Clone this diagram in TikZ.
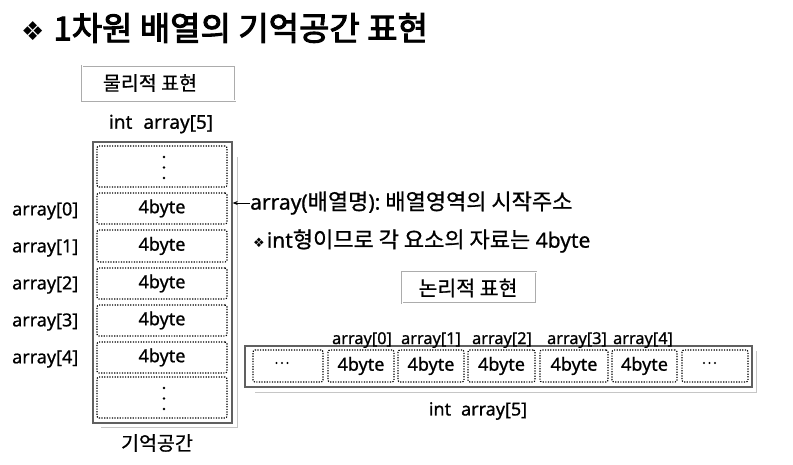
\documentclass[tikz,border=0pt]{standalone}
\usepackage{fontspec}
\setmainfont[FakeBold=0.8]{Noto Sans}
\newfontfamily\krfont[FakeBold=0.8]{Noto Sans CJK KR}
\newfontfamily\krtitle[FakeBold=3]{Noto Sans CJK KR}
\newfontfamily\symfont{DejaVu Sans}
\newcommand{\K}[1]{{\krfont\fontsize{19.5}{22}\selectfont #1}}
\newcommand{\KL}[1]{{\krfont\fontsize{22}{24}\selectfont #1}}
\usetikzlibrary{arrows.meta}
\begin{document}
\begin{tikzpicture}[x=1pt,y=-1pt,
  txt/.style={inner sep=0pt, font=\fontsize{18}{20}\selectfont},
  big/.style={inner sep=0pt, font=\fontsize{21}{23}\selectfont},
  small/.style={inner sep=0pt, font=\fontsize{16.3}{18}\selectfont},
  cell/.style={draw=black, line width=1.2pt, dash pattern=on 1.2pt off 1.4pt,
    rounded corners=2pt, inner sep=0pt, font=\fontsize{18}{20}\selectfont},
  frame/.style={draw=gray!75!black, line width=1.4pt, inner sep=0pt},
  shadow/.style={draw=gray!45, line width=0.8pt},
  tagbox/.style={draw=gray!65, line width=0.5pt, double, double distance=1pt, inner sep=0pt},
  dot/.style={fill=black}
]
\useasboundingbox (0,0) rectangle (793,464);

% title
\node[anchor=west, inner sep=0pt, font=\krtitle\fontsize{33}{36}\selectfont] (title) at (21,28)
  {{\symfont\fontsize{26}{30}\selectfont ❖}\hspace{9pt}1차원 배열의 기억공간 표현};

% physical representation
\node[tagbox, minimum width=153, minimum height=35] (physbox) at (158.5,83) {};
\node[txt] (phys) at (150,83) {\K{물리적 표현}};
\node[txt, font=\fontsize{19}{21}\selectfont] (decl1) at (161,124) {int\hspace{11pt}array[5]};

% memory column
\draw[shadow] (237,157) -- (237,427) -- (101,427);
\node[frame, minimum width=139, minimum height=281] (mem) at (162.5,282.5) {};

\node[cell, minimum width=130, minimum height=41] (ctop) at (162,166.5) {};
\node[cell, minimum width=130, minimum height=31] (c0) at (162,208.5) {4byte};
\node[cell, minimum width=130, minimum height=32] (c1) at (162,246) {4byte};
\node[cell, minimum width=130, minimum height=31] (c2) at (162,283.5) {4byte};
\node[cell, minimum width=130, minimum height=31] (c3) at (162,320.5) {4byte};
\node[cell, minimum width=130, minimum height=31] (c4) at (162,357.5) {4byte};
\node[cell, minimum width=130, minimum height=41] (cbot) at (162,397.5) {};

\foreach \yy in {157,167.5,178} \fill[dot] (164,\yy) circle (1.3);
\foreach \yy in {388,398.5,409} \fill[dot] (164,\yy) circle (1.3);

\node[txt, anchor=west] (l0) at (12,211) {array[0]};
\node[txt, anchor=west] (l1) at (12,248) {array[1]};
\node[txt, anchor=west] (l2) at (12,285) {array[2]};
\node[txt, anchor=west] (l3) at (12,322) {array[3]};
\node[txt, anchor=west] (l4) at (12,359) {array[4]};

\node[big, anchor=west] (addr) at (250,203) {array(\KL{배열명}):\hspace{5pt}\KL{배열영역의 시작주소}};
\draw[-{Stealth[length=5pt,width=4pt]}, line width=0.6pt] (addr.west) -- (addr.west -| mem.east);

\node[big, anchor=west] (note) at (253,241) {{\symfont\fontsize{13}{14}\selectfont ❖}\hspace{2pt}int\KL{형이므로 각 요소의 자료는} 4byte};

\node[txt] (mlabel) at (157,443) {\K{기억공간}};

% logical representation
\node[tagbox, minimum width=134, minimum height=31] (logbox) at (469,287.5) {};
\node[txt] (logi) at (468,288) {{\krfont\fontsize{20.5}{22}\selectfont 논리적 표현}};

\draw[shadow] (756,351) -- (756,392) -- (255,392);
\node[frame, minimum width=507, minimum height=41] (row) at (498.5,366.5) {};

\node[cell, minimum width=70, minimum height=32] (h0) at (288,366) {};
\node[cell, minimum width=66, minimum height=32] (h1) at (361,366) {4byte};
\node[cell, minimum width=66, minimum height=32] (h2) at (431,366) {4byte};
\node[cell, minimum width=67, minimum height=32] (h3) at (501.5,366) {4byte};
\node[cell, minimum width=68, minimum height=32] (h4) at (574,366) {4byte};
\node[cell, minimum width=65, minimum height=32] (h5) at (644.5,366) {4byte};
\node[cell, minimum width=66, minimum height=32] (h6) at (715,366) {};

\foreach \xx in {276.5,282,287.5} \fill[dot] (\xx,363) circle (1.1);
\foreach \xx in {704,709.5,715} \fill[dot] (\xx,363) circle (1.1);

\node[small, anchor=base] (a0) at (362,344) {array[0]};
\node[small, anchor=base] (a1) at (431,344) {array[1]};
\node[small, anchor=base] (a2) at (502,344) {array[2]};
\node[small, anchor=base] (a3) at (577,344) {array[3]};
\node[small, anchor=base] (a4) at (643,344) {array[4]};

\node[txt] (decl2) at (478,411) {int\hspace{10pt}array[5]};
\end{tikzpicture}
\end{document}
